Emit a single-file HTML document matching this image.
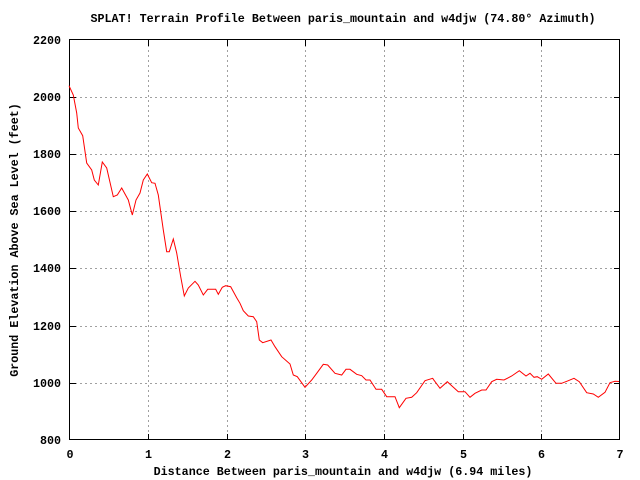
<!DOCTYPE html>
<html><head><meta charset="utf-8"><style>body{margin:0;background:#fff}svg{display:block}text{font-family:"Liberation Mono",monospace;font-weight:bold;font-size:11.7px;fill:#000}</style></head>
<body>
<svg width="640" height="480" viewBox="0 0 640 480">
<g stroke="#a0a0a0" stroke-width="1" stroke-dasharray="2,3">
<line x1="70" y1="97.5" x2="620" y2="97.5"/><line x1="70" y1="154.5" x2="620" y2="154.5"/><line x1="70" y1="211.5" x2="620" y2="211.5"/><line x1="70" y1="268.5" x2="620" y2="268.5"/><line x1="70" y1="326.5" x2="620" y2="326.5"/><line x1="70" y1="383.5" x2="620" y2="383.5"/>
<line x1="148.5" y1="40" x2="148.5" y2="440"/><line x1="227.5" y1="40" x2="227.5" y2="440"/><line x1="305.5" y1="40" x2="305.5" y2="440"/><line x1="384.5" y1="40" x2="384.5" y2="440"/><line x1="463.5" y1="40" x2="463.5" y2="440"/><line x1="541.5" y1="40" x2="541.5" y2="440"/>
</g>
<g stroke="#000" stroke-width="1">
<rect x="69.5" y="39.5" width="550" height="400" fill="none"/>
<path d="M70 97.5h6M70 154.5h6M70 211.5h6M70 268.5h6M70 326.5h6M70 383.5h6M620 97.5h-6M620 154.5h-6M620 211.5h-6M620 268.5h-6M620 326.5h-6M620 383.5h-6M148.5 440v-6M227.5 440v-6M305.5 440v-6M384.5 440v-6M463.5 440v-6M541.5 440v-6M148.5 40v6M227.5 40v6M305.5 40v6M384.5 40v6M463.5 40v6M541.5 40v6"/>
</g>
<polyline fill="none" stroke="#f00" stroke-width="1" points="69,85.7 73.3,95 76.7,113 78.3,128 82.7,135.7 86.7,163 91.7,170 94.3,180 98.3,185 102.3,162 106.7,168 113.3,196.7 117.3,195 121.7,188 128.3,200 132.3,215 136,200 140,193 143.3,180 147.3,174 151.7,182.7 155,183.3 158.3,195 163.3,230 166.7,251.7 169.3,251.7 173.3,239 176.7,253 180.7,276.7 184.3,296 188.3,288 195,281.3 198.3,285 203.3,295 207.7,289.3 215.7,289.3 218.3,294.3 222.3,287.3 225.7,285.7 230.7,286.7 236.7,297.7 240,303.3 243.3,310.7 248.3,316 253.3,316.7 256.7,321.7 259.3,340 262.7,342.7 271,340 275,346.7 281.7,356.7 290,364 293.3,375 297.3,376.7 305,387.3 311.7,380 316.7,373.3 323.3,364.3 327.7,365 335,373.3 341.7,375 346,369.3 350,369.3 356.7,374.3 361.7,375.7 366,380 370,380 376,389.3 381.7,389.3 386.7,396.7 395,396.7 399.3,407.7 406,398.3 411.7,397.3 416.7,392.7 425,380.7 432.7,378.3 433.3,379.3 440,388.3 447.3,381.7 458.3,391.7 465,391.7 470,397.3 475,393.3 481.7,390 486,390 491.7,381.7 496.7,379.3 504,380 511.7,376 519.3,370.7 526,376 530,373.3 534,377.3 537.3,376.7 541.7,379.3 548.3,374 556,383.3 561.7,383.3 568.3,380.7 574,378.3 579.3,381.7 586.7,392.7 593.3,394 598.3,397.3 605,392.3 610,382.7 615,381.3 619,381.5"/>
<text x="343" y="22" text-anchor="middle">SPLAT! Terrain Profile Between paris_mountain and w4djw (74.80° Azimuth)</text>
<g text-anchor="end">
<text x="61" y="44">2200</text><text x="61" y="101">2000</text><text x="61" y="158">1800</text><text x="61" y="215">1600</text><text x="61" y="272">1400</text><text x="61" y="330">1200</text><text x="61" y="387">1000</text><text x="61" y="444">800</text>
</g>
<g text-anchor="middle">
<text x="70" y="458">0</text><text x="148.5" y="458">1</text><text x="227.5" y="458">2</text><text x="305.5" y="458">3</text><text x="384.5" y="458">4</text><text x="463.5" y="458">5</text><text x="541.5" y="458">6</text><text x="620" y="458">7</text>
<text x="343" y="475">Distance Between paris_mountain and w4djw (6.94 miles)</text>
<text transform="translate(18,240) rotate(-90)">Ground Elevation Above Sea Level (feet)</text>
</g>
</svg>
</body></html>
